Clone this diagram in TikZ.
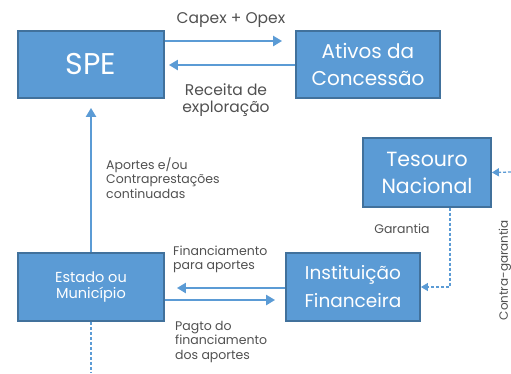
\documentclass[tikz,border=0pt]{standalone}
\usepackage{fontspec}
\setmainfont{Poppins}
\usetikzlibrary{arrows.meta}
\definecolor{boxblue}{HTML}{5B9BD5}
\definecolor{boxline}{HTML}{41719C}
\definecolor{labelgray}{HTML}{505050}
\begin{document}
\begin{tikzpicture}[x=1pt, y=-1pt,
    box/.style={draw=boxline, line width=1.8pt, fill=boxblue, text=white, align=center, inner sep=0pt},
    flow/.style={draw=boxblue, line width=2.6pt, -{Triangle[length=9pt, width=10pt]}},
    dashflow/.style={draw=boxblue, line width=1.3pt, dash pattern=on 3pt off 2pt, -{Triangle[length=7pt, width=8pt]}},
    lbl/.style={text=labelgray, font=\fontsize{12.5}{14.5}\selectfont, align=left, inner sep=0pt},
    biglbl/.style={lbl, font=\fontsize{15.5}{16.5}\selectfont}]
    \useasboundingbox (0,0) rectangle (511,373);

    % Boxes
    \node[box, minimum width=146pt, minimum height=67pt, font=\fontsize{30}{32}\selectfont] (spe) at (91,64.5) {SPE};
    \node[box, minimum width=144pt, minimum height=67pt, font=\fontsize{20}{27.5}\selectfont] (ativos) at (368,64.5) {Ativos da\\Concessão};
    \node[box, minimum width=128pt, minimum height=69pt, font=\fontsize{20.5}{27}\selectfont] (tesouro) at (427,172.5) {Tesouro\\Nacional};
    \node[box, minimum width=134pt, minimum height=68pt, font=\fontsize{18.5}{28}\selectfont] (inst) at (353,287) {Instituição\\Financeira};
    \node[box, minimum width=146pt, minimum height=68pt, font=\fontsize{14.5}{15.5}\selectfont] (estado) at (91,287) {Estado ou\\Município};

    % Free ends
    \coordinate (contra) at (511,172);
    \coordinate (bottom) at (91,373);

    % Connectors
    \draw[flow, shorten >=13pt] (spe.east |- 0,41) -- (ativos.west |- 0,41);
    \draw[flow, shorten >=4pt] (ativos.west |- 0,65) -- (spe.east |- 0,65);
    \draw[flow, shorten >=9pt] (estado.north) -- (spe.south);
    \draw[flow, shorten >=12pt] (inst.west |- 0,288) -- (estado.east |- 0,288);
    \draw[flow, shorten >=10pt] (estado.east |- 0,300) -- (inst.west |- 0,300);
    \draw[dashflow] (tesouro.south -| 450,0) |- (inst.east);
    \draw[dashflow] (contra) -- (tesouro.east);
    \draw[dashflow, -] (estado.south) -- (bottom);

    % Labels
    \node[biglbl] (capexlbl) at (231,20) {Capex + Opex};
    \node[biglbl, align=center] (receitalbl) at (226,100) {Receita de\\exploração};
    \node[lbl, anchor=west] (aporteslbl) at (106,178) {Aportes e/ou\\Contraprestações\\continuadas};
    \node[lbl] (garantialbl) at (402,229) {Garantia};
    \node[lbl, anchor=west] (finlbl) at (173,259.5) {Financiamento\\para aportes};
    \node[lbl, anchor=west] (pagtolbl) at (175,341.5) {Pagto do\\financiamento\\dos aportes};
    \node[lbl, rotate=90, font=\fontsize{12}{14}\selectfont] (contralbl) at (505,270) {Contra-garantia};
\end{tikzpicture}
\end{document}
